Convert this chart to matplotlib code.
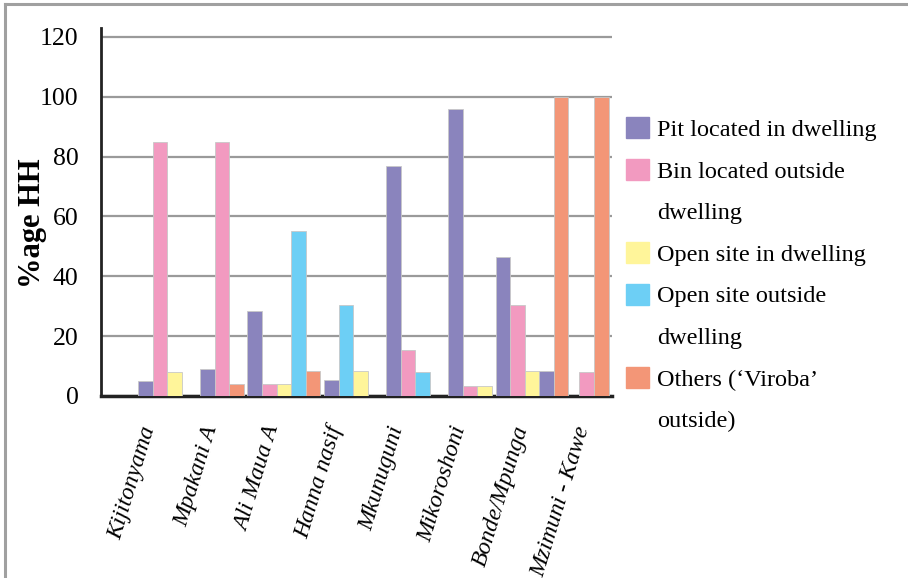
import numpy as np
import matplotlib
matplotlib.use("Agg")
import matplotlib.pyplot as plt
import matplotlib.patches as mpatches
import matplotlib.transforms as mtransforms
from matplotlib.lines import Line2D

plt.rcParams['font.family'] = ['Liberation Serif', 'DejaVu Serif']

# categories (survey areas)
categories = ["Kijitonyama", "Mpakani A", "Ali Maua A", "Hanna nasif",
              "Mkunuguni", "Mikoroshoni", "Bonde/Mpunga", "Mzimuni - Kawe"]

series = ["Pit located in dwelling", "Bin located outside\ndwelling",
          "Open site in dwelling", "Open site outside\ndwelling",
          "Others (\u2018Viroba\u2019\noutside)"]
colors = ["#8a84bd", "#f29ac0", "#fff59a", "#6dcff5", "#f39677"]

# bars as drawn in each group (series index, % of households), left to right
bar_series = [
    [0, 1, 2],
    [0, 1, 4],
    [0, 1, 2, 3, 4],
    [0, 3, 2],
    [0, 1, 3],
    [0, 1, 2],
    [0, 1, 2, 0, 4],
    [1, 4],
]
bar_values = [
    [5, 85, 8],
    [9, 85, 4],
    [28.5, 4, 4, 55, 8.5],
    [5.5, 30.5, 8.5],
    [77, 15.5, 8],
    [96, 3.5, 3.5],
    [46.5, 30.5, 8.5, 8.5, 100],
    [8, 100],
]

fig = plt.figure(figsize=(9.08, 5.78), dpi=100)
ax = fig.add_axes([0.1112, 0.3149, 0.5628, 0.6367])

width = 0.235
for i, (sidx, vals) in enumerate(zip(bar_series, bar_values)):
    n = len(vals)
    xs = i + (np.arange(n) - (n - 1) / 2) * width
    for x, s, v in zip(xs, sidx, vals):
        ax.bar(x, v, width=width, color=colors[s], edgecolor="#c8c8c8",
               linewidth=0.6, zorder=3)

ax.set_xlim(-0.95, 7.29)
ax.set_ylim(0, 123)
ax.set_yticks(np.arange(0, 121, 20))
ax.yaxis.grid(True, color="#9a9a9a", linewidth=1.6, zorder=0)
ax.tick_params(axis='y', length=0, pad=16, labelsize=18.5)
ax.tick_params(axis='x', length=0, pad=22)
ax.set_xticks(np.arange(len(categories)))
ax.set_xticklabels(categories, rotation=73, ha='right', rotation_mode='anchor',
                   fontsize=17, style='italic', va='center')
# labels sit a little left of the bar groups
shift = mtransforms.ScaledTranslation(-10 / 100, 0, fig.dpi_scale_trans)
for lab in ax.get_xticklabels():
    lab.set_transform(lab.get_transform() + shift)

for side in ['top', 'right']:
    ax.spines[side].set_visible(False)
ax.spines['left'].set_linewidth(2)
ax.spines['left'].set_color("#222222")
ax.spines['bottom'].set_linewidth(2.5)
ax.spines['bottom'].set_color("#222222")

ax.set_ylabel("%age HH", fontsize=22, fontweight='bold')
ax.yaxis.set_label_coords(-0.106, 0.47)

# legend: continuation lines get blank handles so squares sit on first line
handles, labels = [], []
for s, c in zip(series, colors):
    lines = s.split("\n")
    handles.append(mpatches.Patch(color=c))
    labels.append(lines[0])
    for extra in lines[1:]:
        handles.append(mpatches.Patch(color='none'))
        labels.append(extra)
leg = fig.legend(handles, labels, loc='upper left', bbox_to_anchor=(0.689, 0.797),
                 frameon=False, fontsize=17.5, handlelength=0.95, handleheight=0.95,
                 handletextpad=0.33, labelspacing=0.73, borderpad=0, borderaxespad=0)

# outer frame lines (top and left)
fig.add_artist(Line2D([0.005, 1], [0.993, 0.993], color="#a0a0a0", linewidth=2.2))
fig.add_artist(Line2D([0.005, 0.005], [0, 0.993], color="#a0a0a0", linewidth=2.2))

fig.savefig("out.png", dpi=100)
